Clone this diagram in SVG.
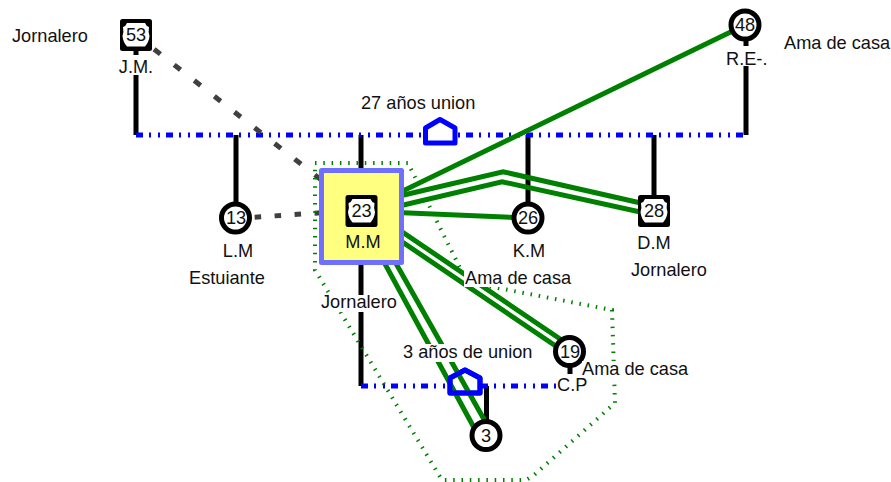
<svg xmlns="http://www.w3.org/2000/svg" xmlns:xlink="http://www.w3.org/1999/xlink" width="891" height="482" viewBox="0 0 891 482">
<style>
text{font-family:"Liberation Sans",Arial,sans-serif;font-size:18.2px;fill:#111}
.n{text-anchor:middle}
.k{stroke:#000;stroke-width:5;fill:none}
.u{stroke:#0000ff;stroke-width:5;fill:none;stroke-dasharray:7 6 2 7 2 6}
.g{stroke:#008000;stroke-width:5;fill:none;stroke-linejoin:miter}
.d{stroke:#404040;stroke-width:5;fill:none}
.h{stroke:#0000ff;stroke-width:5;stroke-linejoin:round}
.m{fill:#fff}
.c{fill:#fff;stroke:#000;stroke-width:5}
</style>
<defs>
<g id="sq"><rect x="-16" y="-16" width="32" height="32" rx="2.5" fill="#000"/><path fill="#fff" d="M-9-12H9Q10-9 13-8Q12-3 13.500 1Q13 7 9 11.500H-9Q-13 7-13.500 1Q-12-3-13-8Q-10-9-9-12Z"/></g>
</defs>
<rect width="891" height="482" fill="#fff"/>
<g id="connectors">
<path class="k" d="M136 50V135M236 135V205M361 135V386M528 135V205M654 135V195M746 40V135M570 365V374M486.500 386V421"/>
<path class="u" d="M136 135H746"/>
<path class="u" d="M361 386H556"/>
<path class="d" stroke-dasharray="8 17.500" stroke-dashoffset="2.500" d="M136 35L361 211"/>
<path class="d" stroke-dasharray="6.500 13.500" stroke-dashoffset="1.300" d="M236 218.500L361 210"/>
<path class="h" fill="#fff" d="M425.500 143V128L440 119.500L455 128V143Z"/>
<path class="h" fill="#fff" d="M450 393V378L465 370L480 378V393Z"/>
<path class="g" d="M361.500 211L745 25"/>
<path class="g" d="M361.500 211L528 218"/>
<path class="g" d="M361 205L503 171.700L654 206M361 215L502 181.700L654 215"/>
<path class="g" d="M361 204L569 345M361 214L569 355"/>
<path class="g" d="M353 205L478 435M363 205L490 430"/>
<path class="h" fill="none" d="M450 393V378L465 370L480 378V393Z"/>
</g>
<path id="boundary" fill="none" stroke="#008000" stroke-width="4" stroke-dasharray="1.500 6.800" d="M315 163H408L467 282L612 310L615 403L533 476L526 480H442L315 270Z"/>
<g id="node-mm"><rect x="321.500" y="170.500" width="80" height="92" fill="#ffff80" stroke="#7070ff" stroke-width="5" stroke-linejoin="round"/><use xlink:href="#sq" href="#sq" x="361.500" y="211"/><text class="n" x="363" y="248">M.M</text><text class="n" x="361.500" y="217">23</text></g>
<g id="node-jm"><use xlink:href="#sq" href="#sq" x="136" y="35"/><text class="n" x="136" y="41">53</text><rect class="m" x="118" y="55" width="38" height="20"/><text class="n" x="136" y="73">J.M.</text><text x="12" y="42">Jornalero</text></g>
<g id="node-re"><circle class="c" cx="745" cy="25" r="14"/><text class="n" x="745" y="31">48</text><rect class="m" x="725" y="46" width="42" height="20"/><text x="726" y="65">R.E-.</text><text x="784" y="49">Ama de casa</text></g>
<g id="node-lm"><circle class="c" cx="235.500" cy="218" r="14"/><text class="n" x="236" y="224">13</text><text class="n" x="238" y="257">L.M</text><text x="189" y="284">Estuiante</text></g>
<g id="node-km"><circle class="c" cx="528" cy="218" r="14"/><text class="n" x="528" y="224">26</text><text class="n" x="529" y="257">K.M</text></g>
<g id="node-dm"><use xlink:href="#sq" href="#sq" x="654" y="211"/><text class="n" x="654" y="217">28</text><text class="n" x="654" y="249">D.M</text><text x="631" y="276">Jornalero</text></g>
<g id="node-cp"><circle class="c" cx="569.500" cy="351.500" r="14"/><text class="n" x="570" y="358">19</text><rect class="m" x="556" y="375" width="32" height="18"/><text x="557" y="391">C.P</text><rect class="m" x="582" y="361" width="108" height="17"/><text x="582" y="375">Ama de casa</text></g>
<g id="node-3"><circle class="c" cx="486" cy="435.500" r="14"/><text class="n" x="486" y="442">3</text></g>
<g id="labels">
<text x="361" y="109">27 años union</text>
<rect class="m" x="321" y="295" width="77" height="17"/><text x="321" y="308">Jornalero</text>
<rect class="m" x="464" y="270" width="109" height="17"/><text x="465" y="284">Ama de casa</text>
<rect class="m" x="403" y="344" width="131" height="18"/><text x="403" y="358">3 años de union</text>
</g>
</svg>
